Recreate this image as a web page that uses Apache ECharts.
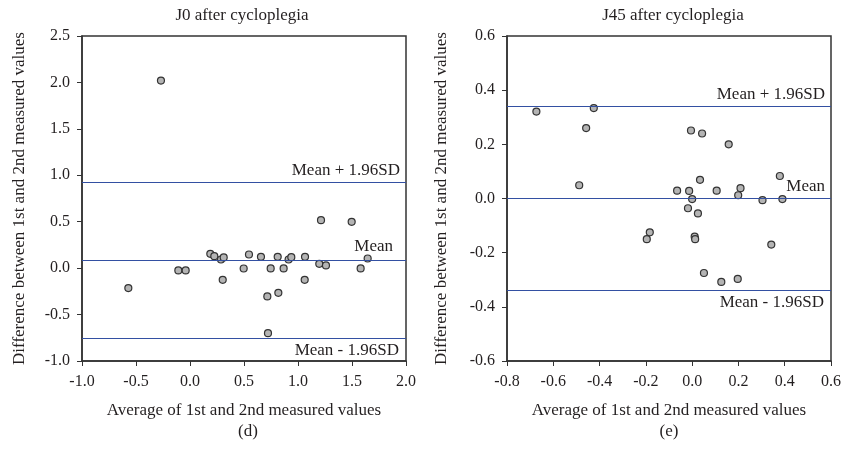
<!DOCTYPE html>
<html>
<head>
<meta charset="utf-8">
<script src="https://cdn.jsdelivr.net/npm/echarts@6/dist/echarts.min.js"></script>
<style>
html, body { margin: 0; padding: 0; background: #fff; }
#main { width: 844px; height: 462px; }
</style>
</head>
<body>
<div id="main"></div>
<script>
// J0 after cycloplegia: [average, difference]
var j0Points = [
	[-0.269, 2.02], [-0.571, -0.215], [-0.108, -0.025], [-0.04, -0.025],
	[0.188, 0.154], [0.225, 0.129], [0.287, 0.093], [0.312, 0.115], [0.303, -0.126],
	[0.546, 0.147], [0.497, -0.004], [0.657, 0.122], [0.747, -0.003], [0.812, 0.122],
	[0.867, -0.003], [0.913, 0.093], [0.938, 0.118], [1.065, 0.122], [1.062, -0.126],
	[1.197, 0.047], [1.259, 0.029], [1.213, 0.517], [1.497, 0.499], [1.58, -0.003],
	[1.645, 0.104], [0.716, -0.305], [0.818, -0.266], [0.722, -0.70]
]
var j0Lines = { mean: 0.089, upper: 0.929, lower: -0.757 }

// J45 after cycloplegia
var j45Points = [
	[-0.673, 0.321], [-0.425, 0.334], [-0.458, 0.26], [-0.488, 0.049],
	[-0.183, -0.125], [-0.196, -0.15], [-0.005, 0.251], [0.043, 0.24], [0.158, 0.2],
	[0.034, 0.069], [-0.065, 0.029], [-0.013, 0.028], [0.0, -0.002], [-0.018, -0.036],
	[0.025, -0.055], [0.106, 0.029], [0.209, 0.038], [0.199, 0.012], [0.304, -0.006],
	[0.39, -0.002], [0.379, 0.083], [0.011, -0.141], [0.013, -0.15], [0.342, -0.17],
	[0.051, -0.275], [0.126, -0.308], [0.197, -0.297]
]
var j45Lines = { mean: 0.0, upper: 0.344, lower: -0.343 }

var font = 'Liberation Serif'
var textColor = '#231f20'
var axisColor = '#333'
var lineColor = '#3350a2'

function fmt(v) {
	return Math.abs(v) < 1e-9 ? '0.0' : v.toFixed(1)
}

function makeAxis(min, max, interval, name, gap, margin) {
	return {
		type: 'value',
		min: min,
		max: max,
		interval: interval,
		name: name,
		nameLocation: 'middle',
		nameGap: gap,
		nameTextStyle: { fontFamily: font, fontSize: 17, color: textColor },
		axisLine: { show: true, onZero: false, lineStyle: { color: axisColor, width: 1.5 } },
		axisTick: { show: true, inside: false, length: 5, lineStyle: { color: axisColor, width: 1 } },
		axisLabel: { formatter: fmt, fontFamily: font, fontSize: 16, color: textColor, margin: margin },
		splitLine: { show: false }
	}
}

function markLines(l, meanGap) {
	var lbl = function (text, pos, dist) {
		return { show: true, formatter: text, position: pos, fontFamily: font, fontSize: 17, color: textColor, distance: dist }
	}
	return {
		silent: true,
		symbol: 'none',
		animation: false,
		lineStyle: { color: lineColor, width: 1, type: 'solid' },
		data: [
			{ yAxis: l.upper, label: lbl('Mean + 1.96SD', 'insideEndTop', [6, 3]) },
			{ yAxis: l.mean, label: lbl('Mean', 'insideEndTop', meanGap) },
			{ yAxis: l.lower, label: lbl('Mean - 1.96SD', 'insideEndBottom', [7, 3]) }
		]
	}
}

function scatter(idx, pts, lines, meanGap) {
	return {
		type: 'scatter',
		xAxisIndex: idx,
		yAxisIndex: idx,
		data: pts,
		symbolSize: 7,
		itemStyle: { color: '#b4b4b4', borderColor: '#333', borderWidth: 1.2, opacity: 1 },
		markLine: markLines(lines, meanGap),
		z: 3
	}
}

var chart = echarts.init(document.getElementById('main'))
var yName = 'Difference between 1st and 2nd measured values'
var xName = 'Average of 1st and 2nd measured values'
var titleStyle = { fontFamily: font, fontSize: 17, fontWeight: 'normal', color: textColor }
var option = {
	animation: false,
	title: [
		{ text: 'J0 after cycloplegia', left: 237, top: 2, textAlign: 'center', textStyle: titleStyle },
		{ text: 'J45 after cycloplegia', left: 668, top: 2, textAlign: 'center', textStyle: titleStyle },
		{ text: '(d)', left: 243, top: 418, textAlign: 'center', textStyle: titleStyle },
		{ text: '(e)', left: 664, top: 418, textAlign: 'center', textStyle: titleStyle }
	],
	grid: [
		{ left: 82, right: 438, top: 36, bottom: 101, show: true, borderColor: axisColor, borderWidth: 1.5, backgroundColor: 'transparent' },
		{ left: 507, right: 11, top: 36, bottom: 101, show: true, borderColor: axisColor, borderWidth: 1.5, backgroundColor: 'transparent' }
	],
	xAxis: [
		Object.assign(makeAxis(-1, 2, 0.5, xName, 41, 13), { gridIndex: 0 }),
		Object.assign(makeAxis(-0.8, 0.6, 0.2, xName, 41, 13), { gridIndex: 1 })
	],
	yAxis: [
		Object.assign(makeAxis(-1, 2.5, 0.5, yName, 54, 12), { gridIndex: 0 }),
		Object.assign(makeAxis(-0.6, 0.6, 0.2, yName, 57, 12), { gridIndex: 1 })
	],
	series: [
		scatter(0, j0Points, j0Lines, [13, 5]),
		scatter(1, j45Points, j45Lines, [6, 3])
	]
}
chart.setOption(option)
</script>
</body>
</html>
